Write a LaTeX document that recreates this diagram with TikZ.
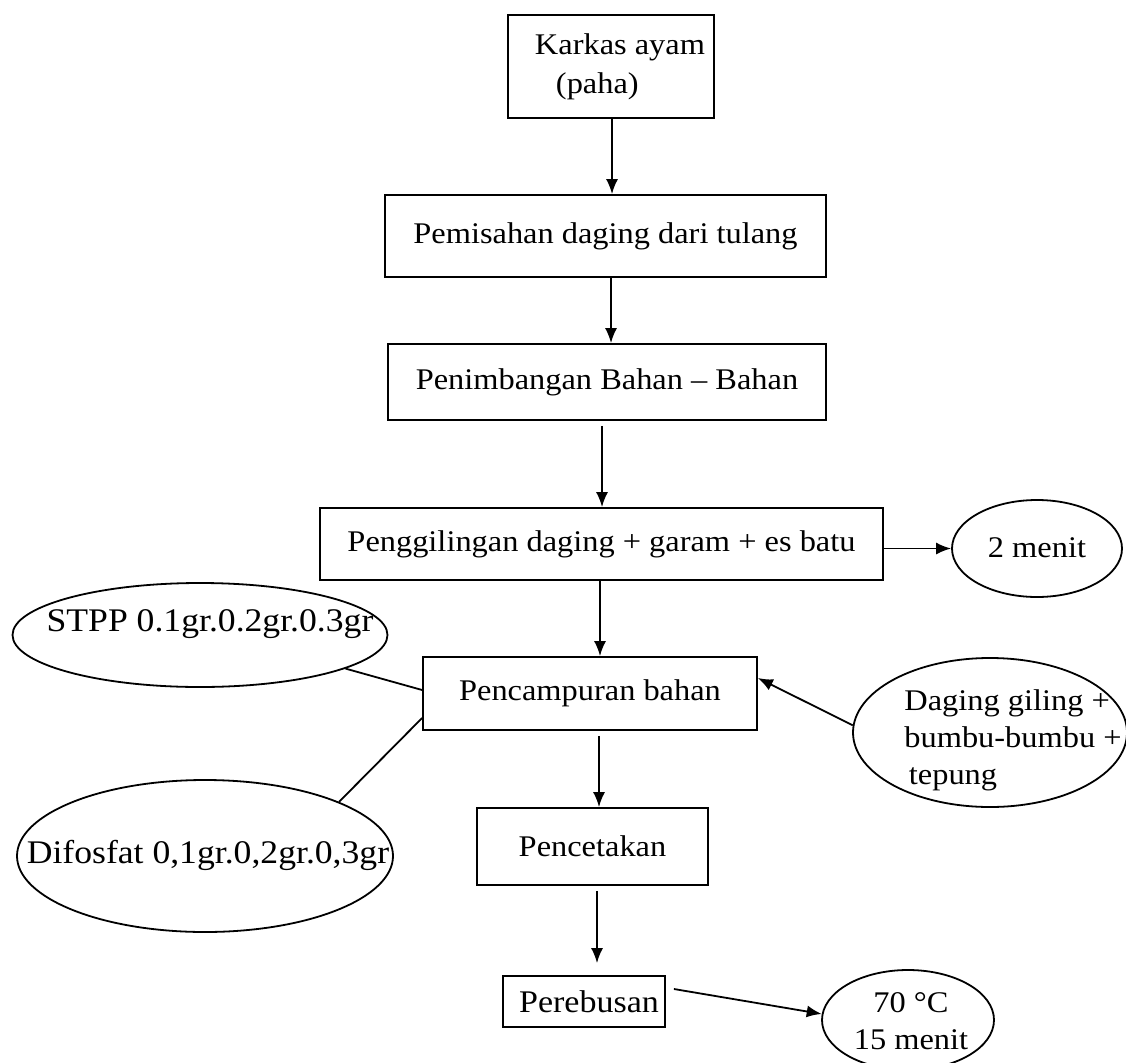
\documentclass[tikz,border=0pt]{standalone}
\usepackage{fontspec}
\setmainfont{Liberation Serif}[FakeStretch=1.08]
\usetikzlibrary{arrows.meta,shapes.geometric}
\begin{document}
\begin{tikzpicture}[x=1pt,y=-1pt,
  lw/.style={line width=1.8pt},
  box/.style={lw,draw,rectangle,inner sep=0pt,font=\fontsize{30}{37}\selectfont},
  oval/.style={lw,draw,ellipse,inner sep=0pt},
  txt/.style={inner sep=0pt,font=\fontsize{30}{37}\selectfont},
  arr/.style={lw,-{Latex[length=15pt,width=12pt]}}]
\useasboundingbox[fill=white] (0,0) rectangle (1126,1062);
% boxes
\node[box,minimum width=206pt,minimum height=103pt,align=left] (karkas) at (611,66.5) {\hspace*{18pt}Karkas ayam\\[2pt]\hspace*{18pt}\hspace*{0.7em}(paha)};
\node[box,minimum width=441pt,minimum height=82pt] (pemisahan) at (605.5,236) {Pemisahan daging dari tulang};
\node[box,minimum width=438pt,minimum height=76pt] (penimbangan) at (607,382) {Penimbangan Bahan -- Bahan};
\node[box,minimum width=563pt,minimum height=72pt] (penggilingan) at (601.5,544) {Penggilingan daging + garam + es batu};
\node[box,minimum width=334pt,minimum height=73pt] (pencampuran) at (590,693.5) {Pencampuran bahan};
\node[box,minimum width=231pt,minimum height=77pt] (pencetakan) at (592.5,846.5) {Pencetakan};
\node[box,minimum width=162pt,minimum height=51pt,font=\fontsize{31.5}{37}\selectfont] (perebusan) at (584,1001.5) {\hspace*{10pt}Perebusan};
% ellipses
\node[oval,minimum width=170pt,minimum height=97pt] (menit) at (1037,548.5) {};
\node[txt] (menittxt) at (1037,548) {2 menit};
\node[oval,minimum width=375pt,minimum height=104pt] (stpp) at (200,635) {};
\node[txt,font=\fontsize{33}{37}\selectfont] (stpptxt) at (210,624) {STPP 0.1gr.0.2gr.0.3gr};
\node[oval,minimum width=376pt,minimum height=152pt] (difosfat) at (205,856) {};
\node[txt,font=\fontsize{33}{37}\selectfont] (difosfattxt) at (208,855) {Difosfat 0,1gr.0,2gr.0,3gr};
\node[oval,minimum width=274pt,minimum height=149pt] (daging) at (990,732.5) {};
\node[txt,align=left] (dagingtxt) at (1013,740) {Daging giling +\\bumbu-bumbu +\\\hspace*{0.15em}tepung};
\node[oval,minimum width=172pt,minimum height=100pt] (suhu) at (908,1020) {};
\node[txt,align=center] (suhutxt) at (911,1021) {70 °C\\15 menit};
% connectors
\draw[arr] ([xshift=1pt]karkas.south) -- ([xshift=1pt]karkas.south |- pemisahan.north);
\draw[arr] (pemisahan.south -| 611,0) -- (penimbangan.north -| 611,0);
\draw[arr] ([yshift=-5pt]penimbangan.south -| 602,0) -- (penggilingan.north -| 602,0);
\draw[arr] (penggilingan.south -| 600,0) -- (pencampuran.north -| 600,0);
\draw[arr] ([yshift=-5pt]pencampuran.south -| 599,0) -- (pencetakan.north -| 599,0);
\draw[arr] ([yshift=-5pt]pencetakan.south -| 597,0) -- ([yshift=12pt]perebusan.north -| 597,0);
\draw[arr] (penggilingan.east |- menit.west) -- (menit.west);
\draw[arr] (daging.177) -- (pencampuran.east |- 0,678);
\draw[arr] ([xshift=8pt]perebusan.east |- 0,989) -- (suhu.176);
\draw[lw] (stpp.-13) -- (pencampuran.west |- 0,690);
\draw[lw] (difosfat.22) -- (pencampuran.west |- 0,718);
\end{tikzpicture}
\end{document}
